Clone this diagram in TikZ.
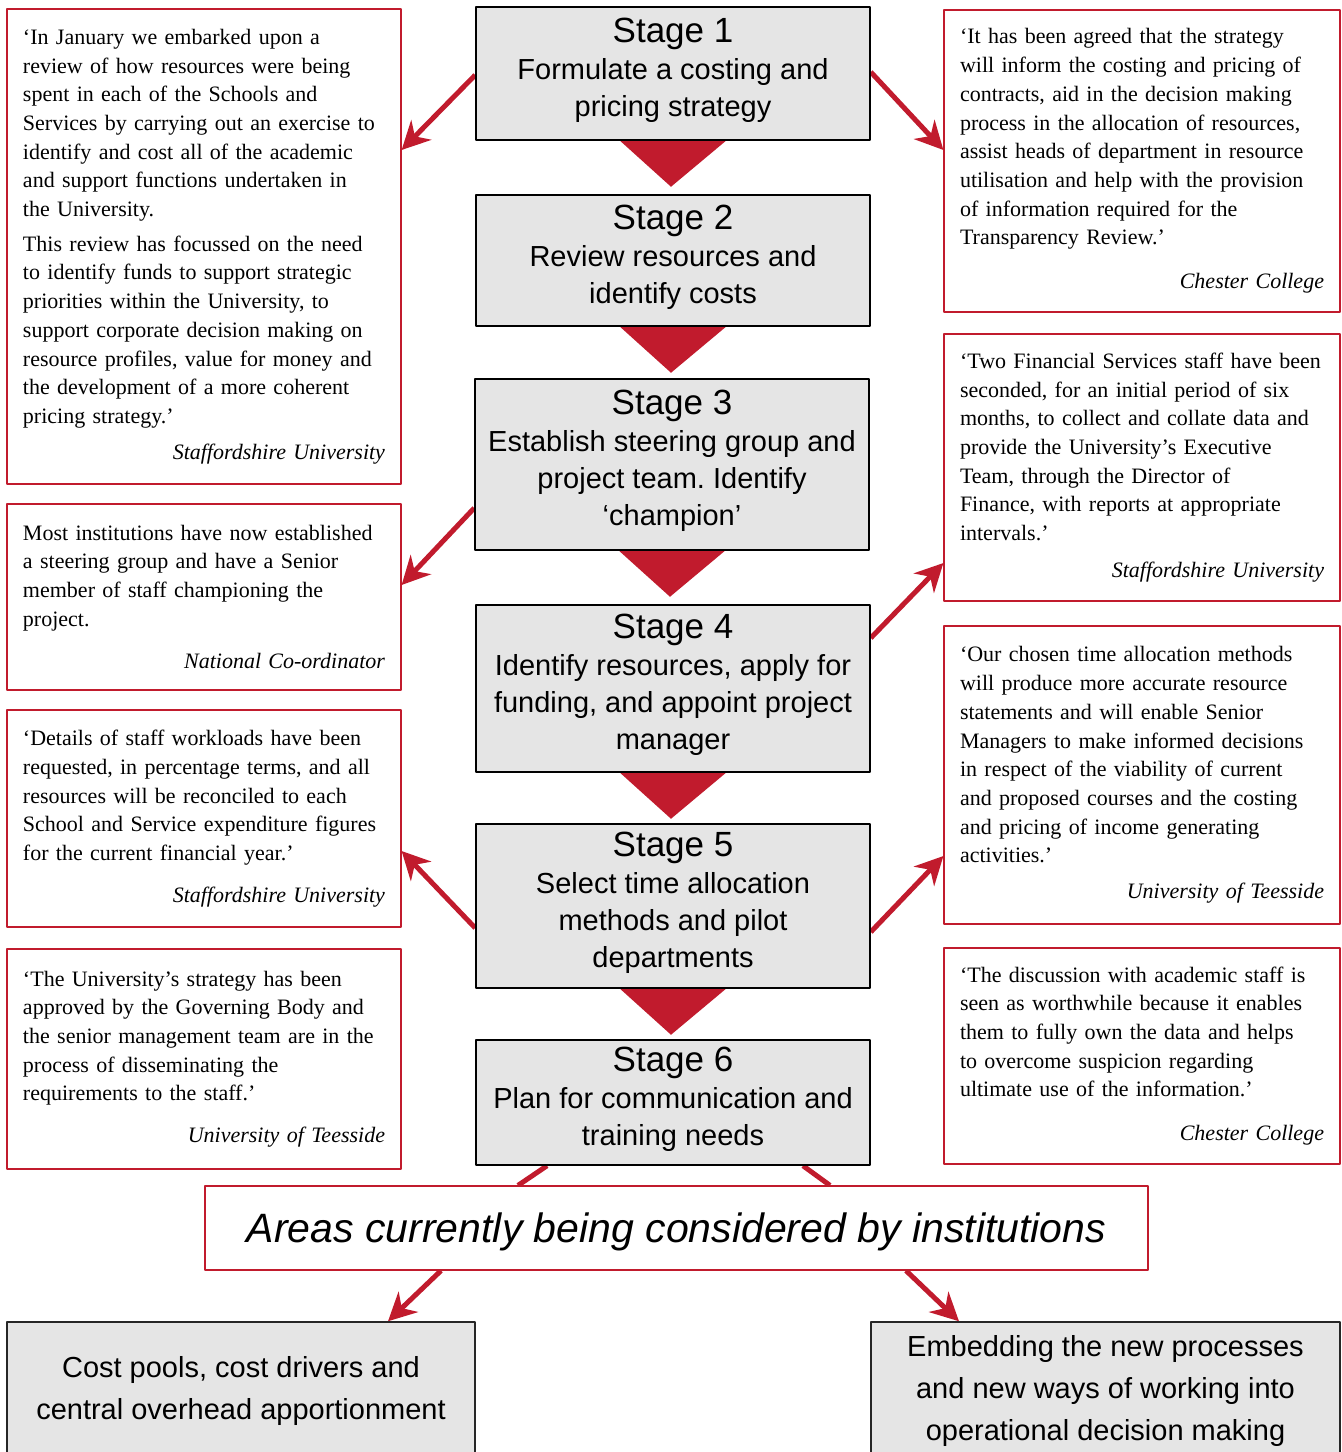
\documentclass[tikz,border=0pt]{standalone}
\usepackage{fontspec}
\setmainfont{Liberation Serif}
\setsansfont{Liberation Sans}
\usepackage{tikz}
\usetikzlibrary{arrows.meta, positioning}
\definecolor{kred}{RGB}{193,27,45}
\definecolor{kgrey}{RGB}{229,229,229}
\pgfdeclarelayer{bg}
\pgfsetlayers{bg,main}
\frenchspacing
\tikzstyle{redarrow} = [kred, line width=5pt, -{Stealth[length=28pt, width=28pt, inset=9pt]}]
\tikzstyle{redline} = [kred, line width=5pt]
\tikzstyle{stagebox} = [draw=black, line width=1.5pt, fill=kgrey, minimum width=394pt,
                        align=center, inner sep=0pt, font=\sffamily\fontsize{29}{37}\selectfont]
\tikzstyle{quotebox} = [draw=kred, line width=1.2pt, fill=white, text width=362pt, inner xsep=16pt,
                        inner ysep=0pt, align=left, font=\fontsize{22}{28.7}\selectfont]
\tikzstyle{areabox} = [draw=kred, line width=1.2pt, fill=white, minimum width=943pt, minimum height=84pt,
                       text height=38pt, text depth=9pt,
                       font=\sffamily\itshape\fontsize{41}{48}\selectfont]
\tikzstyle{greybox} = [draw=black!85, line width=1.5pt, fill=kgrey, minimum height=138pt,
                       align=center, font=\sffamily\fontsize{29}{42}\selectfont]
\newcommand{\stagetitle}[1]{{\fontsize{35}{37}\selectfont #1}}
\newcommand{\stagelast}[1]{#1\rule[-13pt]{0pt}{13pt}}
\newcommand{\quotesource}[1]{\hbox to\hsize{\hfill\itshape #1}}

\begin{document}
\begin{tikzpicture}[x=1pt, y=-1pt, line join=round]
    \useasboundingbox (0,0) rectangle (1342,1452);

    % the six stages down the middle
    \node[stagebox, minimum height=133pt] (s1) at (673,73.5)
      {\stagetitle{Stage 1}\\ Formulate a costing and\\ \stagelast{pricing strategy}};
    \node[stagebox, minimum height=131pt] (s2) at (673,260.5)
      {\stagetitle{Stage 2}\\ Review resources and\\ \stagelast{identify costs}};
    \node[stagebox, minimum height=171pt] (s3) at (672,464.5)
      {\stagetitle{Stage 3}\\ Establish steering group and\\ project team. Identify\\ \stagelast{‘champion’}};
    \node[stagebox, minimum height=167pt] (s4) at (673,688.5)
      {\stagetitle{Stage 4}\\ Identify resources, apply for\\ funding, and appoint project\\ \stagelast{manager}};
    \node[stagebox, minimum height=164pt] (s5) at (673,906)
      {\stagetitle{Stage 5}\\ Select time allocation\\ methods and pilot\\ \stagelast{departments}};
    \node[stagebox, minimum height=125pt] (s6) at (673,1102.5)
      {\stagetitle{Stage 6}\\ Plan for communication and\\ \stagelast{training needs}};

    % quotes on the left
    \node[quotebox, minimum height=475pt] (l1) at (204,246.5)
      {‘In January we embarked upon a\\ review of how resources were being\\
       spent in each of the Schools and\\ Services by carrying out an exercise to\\
       identify and cost all of the academic\\ and support functions undertaken in\\
       the University.\\[6pt]
       This review has focussed on the need\\ to identify funds to support strategic\\
       priorities within the University, to\\ support corporate decision making on\\
       resource profiles, value for money and\\ the development of a more coherent\\
       pricing strategy.’\\[7pt]
       \quotesource{Staffordshire University}};
    \node[quotebox, minimum height=186pt] (l2) at (204,597)
      {Most institutions have now established\\ a steering group and have a Senior\\
       member of staff championing the\\ project.\\[14pt]
       \quotesource{National Co-ordinator}};
    \node[quotebox, minimum height=217pt] (l3) at (204,818.5)
      {‘Details of staff workloads have been\\ requested, in percentage terms, and all\\
       resources will be reconciled to each\\ School and Service expenditure figures\\
       for the current financial year.’\\[13pt]
       \quotesource{Staffordshire University}};
    \node[quotebox, minimum height=220pt] (l4) at (204,1059)
      {‘The University’s strategy has been\\ approved by the Governing Body and\\
       the senior management team are in the\\ process of disseminating the\\
       requirements to the staff.’\\[13pt]
       \quotesource{University of Teesside}};

    % quotes on the right
    \node[quotebox, text width=364pt, minimum height=302pt] (r1) at (1142,161)
      {‘It has been agreed that the strategy\\ will inform the costing and pricing of\\
       contracts, aid in the decision making\\ process in the allocation of resources,\\
       assist heads of department in resource\\ utilisation and help with the provision\\
       of information required for the\\ Transparency Review.’\\[15pt]
       \quotesource{Chester College}};
    \node[quotebox, text width=364pt, minimum height=267pt] (r2) at (1142,467.5)
      {‘Two Financial Services staff have been\\ seconded, for an initial period of six\\
       months, to collect and collate data and\\ provide the University’s Executive\\
       Team, through the Director of\\ Finance, with reports at appropriate\\
       intervals.’\\[8pt]
       \quotesource{Staffordshire University}};
    \node[quotebox, text width=364pt, minimum height=298pt] (r3) at (1142,775)
      {‘Our chosen time allocation methods\\ will produce more accurate resource\\
       statements and will enable Senior\\ Managers to make informed decisions\\
       in respect of the viability of current\\ and proposed courses and the costing\\
       and pricing of income generating\\ activities.’\\[7pt]
       \quotesource{University of Teesside}};
    \node[quotebox, text width=364pt, minimum height=216pt] (r4) at (1142,1056)
      {‘The discussion with academic staff is\\ seen as worthwhile because it enables\\
       them to fully own the data and helps\\ to overcome suspicion regarding\\
       ultimate use of the information.’\\[15pt]
       \quotesource{Chester College}};

    % bottom part
    \node[areabox] (areas) at (676.5,1228) {Areas currently being considered by institutions};
    \node[greybox, minimum width=468pt] (b1) at (241,1391)
      {Cost pools, cost drivers and\\ central overhead apportionment};
    \node[greybox, minimum width=469pt] (b2) at (1105.5,1391)
      {Embedding the new processes\\ and new ways of working into\\ operational decision making};

    \begin{pgfonlayer}{bg}
      % wedges between stages
      \foreach \st in {s1,s2,s3,s4,s5}
        \fill[kred] ([xshift=-53pt]\st.south) -- ([xshift=53pt]\st.south)
                    -- ([xshift=-2pt,yshift=-46pt]\st.south) -- cycle;

      \draw[redarrow] ([yshift=-1.5pt]s1.west) -- ([yshift=96.5pt]l1.east);
      \draw[redarrow] ([yshift=1.5pt]s1.east) -- ([yshift=11pt]r1.west);
      \draw[redarrow] ([yshift=-43.5pt]s3.west) -- ([yshift=12pt]l2.east);
      \draw[redarrow] ([yshift=50.5pt]s4.east) -- ([yshift=-95.5pt]r2.west);
      \draw[redarrow] ([yshift=-22pt]s5.west) -- ([yshift=-32.5pt]l3.east);
      \draw[redarrow] ([yshift=-26pt]s5.east) -- ([yshift=-81pt]r3.west);

      \draw[redline] ([xshift=-126pt]s6.south) -- ([xshift=-158.5pt]areas.north);
      \draw[redline] ([xshift=130pt]s6.south) -- ([xshift=153.5pt]areas.north);
      \draw[redarrow] ([xshift=-235.5pt]areas.south) -- ([xshift=147pt]b1.north);
      \draw[redarrow] ([xshift=229.5pt]areas.south) -- ([xshift=-146.5pt]b2.north);
    \end{pgfonlayer}
\end{tikzpicture}
\end{document}
